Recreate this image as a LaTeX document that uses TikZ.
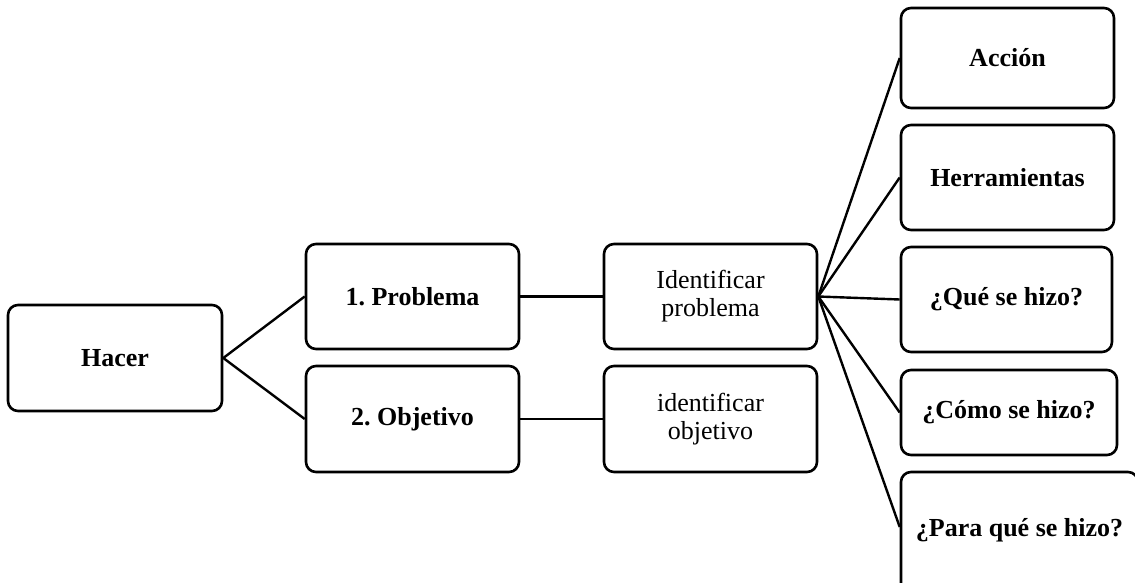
\documentclass[tikz,border=0pt]{standalone}
\usepackage{fontspec}
\setmainfont{Liberation Serif}
\frenchspacing
\begin{document}
\begin{tikzpicture}[x=1pt,y=-1pt,
  bx/.style={draw=black, line width=2.6pt, rounded corners=10pt, inner sep=0pt,
    align=center, font=\fontsize{26}{28}\selectfont},
  bb/.style={bx, font=\fontsize{26}{28}\selectfont\bfseries},
  ln/.style={draw=black, line width=2.4pt, line join=round}]
\useasboundingbox (0,0) rectangle (1135,583);
\node[bb, minimum width=214pt, minimum height=106pt] (hacer) at (115,358) {Hacer};
\node[bb, minimum width=213pt, minimum height=105pt] (prob) at (412.5,296.5) {1. Problema};
\node[bb, minimum width=213pt, minimum height=106pt] (obj) at (412.5,419) {2. Objetivo};
\node[bx, minimum width=213pt, minimum height=105pt] (idp) at (710.5,296.5) {Identificar\\problema};
\node[bx, minimum width=213pt, minimum height=106pt] (ido) at (710.5,419) {identificar\\objetivo};
\node[bb, minimum width=213pt, minimum height=100pt] (acc) at (1007.5,58) {Acción};
\node[bb, minimum width=213pt, minimum height=105pt] (her) at (1007.5,177.5) {Herramientas};
\node[bb, minimum width=211pt, minimum height=105pt] (que) at (1006.5,299.5) {¿Qué se hizo?};
\node[bb, minimum width=216pt, minimum height=85pt] (como) at (1009,412.5) {¿Cómo se hizo?};
\node[bb, minimum width=237pt, minimum height=124pt] (para) at (1019.5,534) {\raisebox{14pt}{¿Para qué se hizo?}};
\draw[ln] (hacer.east) -- (prob.west);
\draw[ln] (hacer.east) -- (obj.west);
\draw[ln] (prob.east) -- (idp.west);
\draw[ln] (obj.east) -- (ido.west);
\foreach \t in {acc,her,que,como} \draw[ln] (idp.east) -- (\t.west);
\draw[ln] (idp.east) -- ([yshift=7pt]para.west);
\end{tikzpicture}
\end{document}
